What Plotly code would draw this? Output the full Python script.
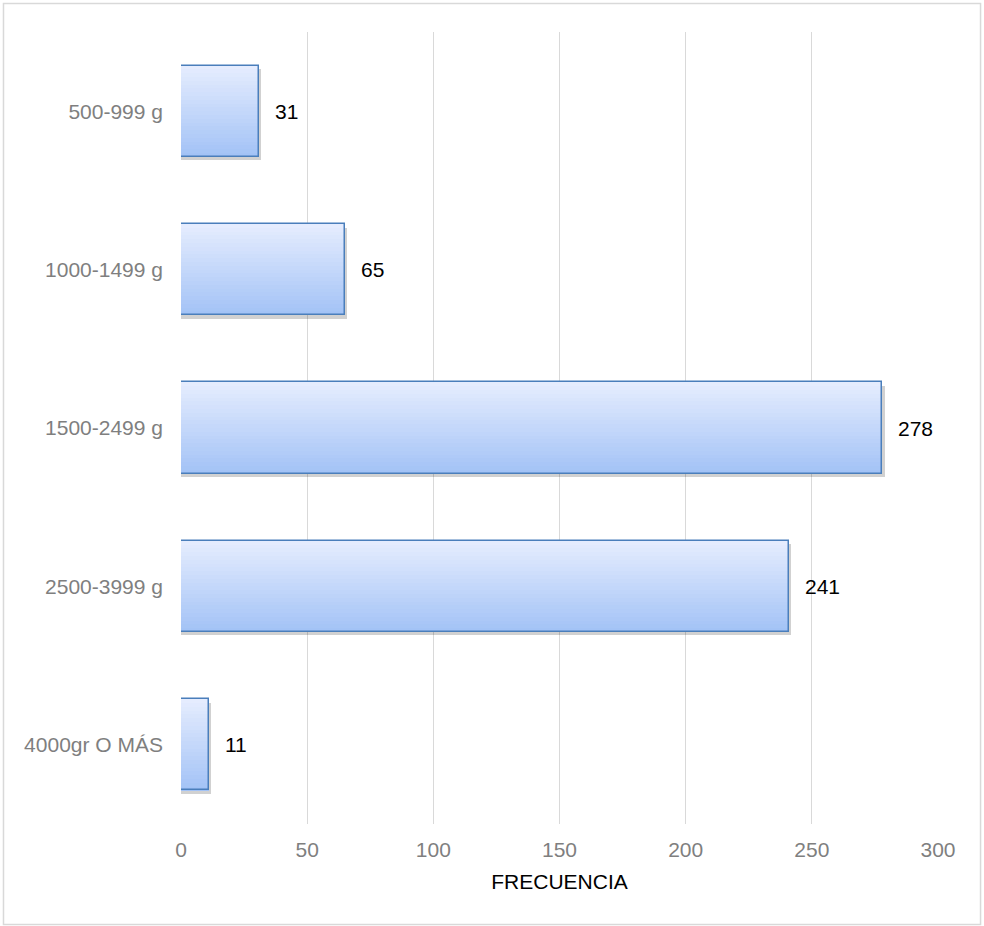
import plotly.graph_objects as go

categories = ["500-999 g", "1000-1499 g", "1500-2499 g", "2500-3999 g", "4000gr O MÁS"]
values = [31, 65, 278, 241, 11]
x_ticks = [0, 50, 100, 150, 200, 250, 300]
x_title = "FRECUENCIA"

BAR_W = 0.575
N_STRIPS = 24
TOP_RGB = (230, 237, 254)
BOT_RGB = (162, 194, 246)
FONT = "Liberation Sans, Arial, sans-serif"
FS = 21

fig = go.Figure()

# shadow
fig.add_trace(go.Bar(
    y=categories, x=[v + 0.9 for v in values], orientation="h",
    width=BAR_W, offset=-BAR_W / 2 + 0.022,
    marker=dict(color="rgba(0,0,0,0.18)", line=dict(width=0)),
    hoverinfo="skip", showlegend=False,
))

# gradient strips
for i in range(N_STRIPS):
    t = (i + 0.5) / N_STRIPS
    c = tuple(round(a + (b - a) * t) for a, b in zip(TOP_RGB, BOT_RGB))
    fig.add_trace(go.Bar(
        y=categories, x=values, orientation="h",
        width=BAR_W / N_STRIPS * 1.06, offset=-BAR_W / 2 + i * BAR_W / N_STRIPS,
        marker=dict(color="rgb(%d,%d,%d)" % c, line=dict(width=0)),
        hoverinfo="skip", showlegend=False,
    ))

# border
fig.add_trace(go.Bar(
    y=categories, x=values, orientation="h",
    width=BAR_W, offset=-BAR_W / 2,
    marker=dict(color="rgba(0,0,0,0)", line=dict(color="#4a7ebb", width=1.5)),
    showlegend=False,
))

for c, v in zip(categories, values):
    fig.add_annotation(
        x=v, y=c, text=str(v), showarrow=False, xanchor="left", xshift=14,
        font=dict(family=FONT, size=FS, color="#000000"),
    )

fig.add_shape(
    type="rect", xref="paper", yref="paper",
    x0=-0.2345, x1=1.0562, y0=-0.1269, y1=1.036,
    line=dict(color="#d9d9d9", width=1.5), fillcolor="rgba(0,0,0,0)", layer="below",
)

fig.update_layout(
    width=984, height=926,
    margin=dict(l=181, r=46, t=32, b=102),
    paper_bgcolor="white", plot_bgcolor="white",
    barmode="overlay", bargap=0,
    font=dict(family=FONT, size=FS, color="#7f7f7f"),
    xaxis=dict(
        range=[0, 300], tickvals=x_ticks, showgrid=True, gridcolor="#d9d9d9", gridwidth=1,
        zeroline=False, showline=False, ticks="", ticklabelstandoff=11,
        tickfont=dict(size=FS, color="#7f7f7f"),
        title=dict(text=x_title, font=dict(size=FS, color="#000000"), standoff=14),
        fixedrange=True,
    ),
    yaxis=dict(
        autorange="reversed", showgrid=False, zeroline=False, showline=False, ticks="",
        ticklabelstandoff=17, tickfont=dict(size=FS, color="#7f7f7f"), fixedrange=True,
    ),
    showlegend=False,
)

fig.write_html("out.html", config={"displayModeBar": False})
